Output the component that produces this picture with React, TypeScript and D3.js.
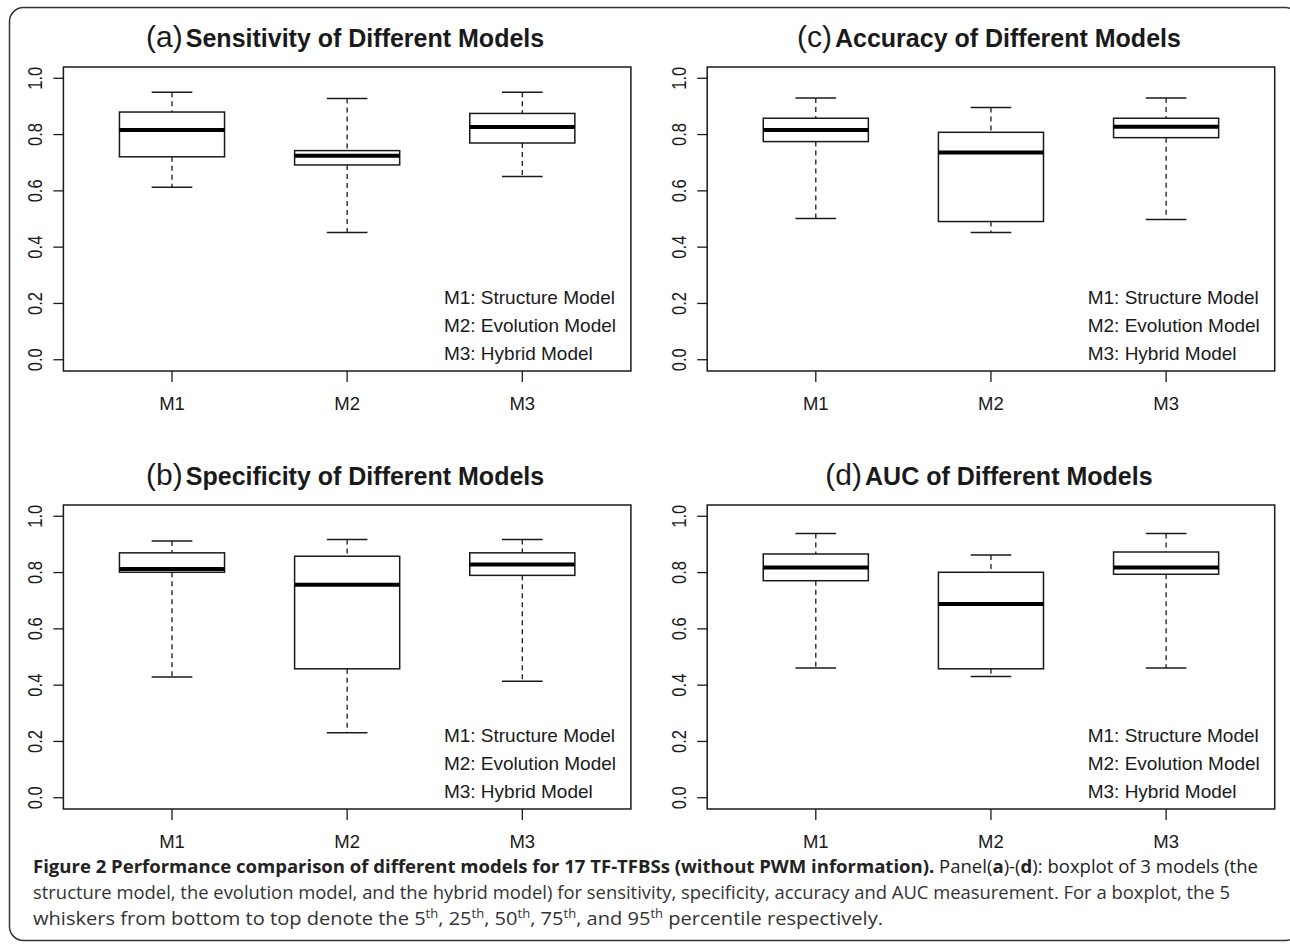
import React from "react";
import * as d3 from "d3";

const models = ["M1", "M2", "M3"];
const legendLabels = ["M1: Structure Model", "M2: Evolution Model", "M3: Hybrid Model"];
const yTicks = [0, 0.2, 0.4, 0.6, 0.8, 1.0];

// [lower whisker (5th), Q1 (25th), median, Q3 (75th), upper whisker (95th)]
const sensitivityStats = [
  [0.613, 0.721, 0.816, 0.88, 0.95],
  [0.452, 0.692, 0.725, 0.743, 0.928],
  [0.651, 0.77, 0.827, 0.875, 0.95],
];
const specificityStats = [
  [0.429, 0.801, 0.813, 0.87, 0.912],
  [0.231, 0.458, 0.757, 0.858, 0.917],
  [0.414, 0.79, 0.829, 0.87, 0.917],
];
const accuracyStats = [
  [0.502, 0.775, 0.816, 0.858, 0.93],
  [0.452, 0.491, 0.736, 0.808, 0.896],
  [0.498, 0.789, 0.828, 0.858, 0.93],
];
const aucStats = [
  [0.461, 0.771, 0.818, 0.866, 0.939],
  [0.431, 0.458, 0.688, 0.801, 0.862],
  [0.461, 0.794, 0.818, 0.873, 0.939],
];

const panelLetters = ["(a)", "(b)", "(c)", "(d)"];
const panelTitles = [
  "Sensitivity of Different Models",
  "Specificity of Different Models",
  "Accuracy of Different Models",
  "AUC of Different Models",
];

const captionBold = "Figure 2 Performance comparison of different models for 17 TF-TFBSs (without PWM information).";
const captionLine2 =
  "structure model, the evolution model, and the hybrid model) for sensitivity, specificity, accuracy and AUC measurement. For a boxplot, the 5";
const percentiles = ["5", "25", "50", "75", "95"];

const FONT = "'Liberation Sans', Arial, Helvetica, sans-serif";
const INK = "#1a1a1a";

type PanelProps = {
  left: number;
  top: number;
  width: number;
  height: number;
  letter: string;
  title: string;
  stats: number[][];
};

function Panel({ left, top, width, height, letter, title, stats }: PanelProps) {
  const x = d3.scaleLinear().domain([0.38, 3.62]).range([left, left + width]);
  const y = d3.scaleLinear().domain([-0.04, 1.04]).range([top + height, top]);
  const bottom = top + height;
  const boxW = 0.6;
  const capW = 0.232;
  return (
    <g>
      <text
        x={left + width / 2 - 2}
        y={top - 20}
        textAnchor="middle"
        fontFamily={FONT}
        fill={INK}
      >
        <tspan fontSize={30}>{letter}</tspan>
        <tspan dx={3} fontSize={25} fontWeight="bold">
          {title}
        </tspan>
      </text>
      <rect
        x={left}
        y={top}
        width={width}
        height={height}
        fill="none"
        stroke={INK}
        strokeWidth={1.5}
      />
      {yTicks.map((t) => (
        <g key={t}>
          <line x1={left - 10} x2={left} y1={y(t)} y2={y(t)} stroke={INK} strokeWidth={1.3} />
          <text
            transform={`translate(${left - 21},${y(t)}) rotate(-90)`}
            textAnchor="middle"
            fontFamily={FONT}
            fontSize={20.5}
            textLength={23}
            lengthAdjust="spacingAndGlyphs"
            fill={INK}
          >
            {t.toFixed(1)}
          </text>
        </g>
      ))}
      {models.map((m, i) => (
        <g key={m}>
          <line x1={x(i + 1)} x2={x(i + 1)} y1={bottom} y2={bottom + 11} stroke={INK} strokeWidth={1.3} />
          <text
            x={x(i + 1)}
            y={bottom + 39}
            textAnchor="middle"
            fontFamily={FONT}
            fontSize={18.5}
            fill={INK}
          >
            {m}
          </text>
        </g>
      ))}
      {stats.map((s, i) => {
        const c = i + 1;
        const [lo, q1, med, q3, hi] = s;
        return (
          <g key={i}>
            <line x1={x(c)} x2={x(c)} y1={y(hi)} y2={y(q3)} stroke={INK} strokeWidth={1.3} strokeDasharray="5,4" />
            <line x1={x(c)} x2={x(c)} y1={y(q1)} y2={y(lo)} stroke={INK} strokeWidth={1.3} strokeDasharray="5,4" />
            <line x1={x(c - capW / 2)} x2={x(c + capW / 2)} y1={y(hi)} y2={y(hi)} stroke={INK} strokeWidth={1.5} />
            <line x1={x(c - capW / 2)} x2={x(c + capW / 2)} y1={y(lo)} y2={y(lo)} stroke={INK} strokeWidth={1.5} />
            <rect
              x={x(c - boxW / 2)}
              y={y(q3)}
              width={x(c + boxW / 2) - x(c - boxW / 2)}
              height={y(q1) - y(q3)}
              fill="white"
              stroke={INK}
              strokeWidth={1.5}
            />
            <line x1={x(c - boxW / 2)} x2={x(c + boxW / 2)} y1={y(med)} y2={y(med)} stroke="#000" strokeWidth={4} />
          </g>
        );
      })}
      {legendLabels.map((l, i) => (
        <text
          key={l}
          x={left + 380.5}
          y={top + 237 + i * 28}
          fontFamily={FONT}
          fontSize={19}
          fill={INK}
        >
          {l}
        </text>
      ))}
    </g>
  );
}

const CAP_FONT = "'Open Sans', 'Noto Sans', sans-serif";

export default function App() {
  const allStats = [sensitivityStats, specificityStats, accuracyStats, aucStats];
  const layout = [
    { left: 63.4, top: 67 },
    { left: 63.4, top: 505 },
    { left: 707.2, top: 67 },
    { left: 707.2, top: 505 },
  ];
  return (
    <svg
      width={1290}
      height={945}
      style={{ position: "absolute", left: 0, top: 0, background: "white" }}
    >
      <rect x={0} y={0} width={1290} height={945} fill="white" />
      <rect
        x={9.5}
        y={7.5}
        width={1290}
        height={933}
        rx={14}
        ry={14}
        fill="none"
        stroke="#333"
        strokeWidth={1.5}
      />
      {layout.map((p, i) => (
        <Panel
          key={i}
          left={p.left}
          top={p.top}
          width={567.5}
          height={304}
          letter={panelLetters[i]}
          title={panelTitles[i]}
          stats={allStats[i]}
        />
      ))}
      <text
        x={33}
        y={873}
        fontFamily={CAP_FONT}
        fontSize={18.5}
        fill="#222"
        textLength={1225}
        lengthAdjust="spacingAndGlyphs"
      >
        <tspan fontWeight="bold">{captionBold}</tspan>
        <tspan> Panel(</tspan>
        <tspan fontWeight="bold">a</tspan>
        <tspan>)-(</tspan>
        <tspan fontWeight="bold">d</tspan>
        <tspan>): boxplot of 3 models (the</tspan>
      </text>
      <text
        x={33}
        y={899}
        fontFamily={CAP_FONT}
        fontSize={18.5}
        fill="#333"
        textLength={1197}
        lengthAdjust="spacingAndGlyphs"
      >
        {captionLine2}
      </text>
      <text
        x={33}
        y={925}
        fontFamily={CAP_FONT}
        fontSize={18.5}
        fill="#333"
        textLength={850}
        lengthAdjust="spacingAndGlyphs"
      >
        <tspan>whiskers from bottom to top denote the </tspan>
        {percentiles.map((p, i) => (
          <React.Fragment key={p}>
            <tspan dy={i === 0 ? 0 : 7}>
              {i === 0 ? "" : i === percentiles.length - 1 ? ", and " : ", "}
              {p}
            </tspan>
            <tspan fontSize={12} dy={-7}>
              th
            </tspan>
          </React.Fragment>
        ))}
        <tspan dy={7}> percentile respectively.</tspan>
      </text>
    </svg>
  );
}
